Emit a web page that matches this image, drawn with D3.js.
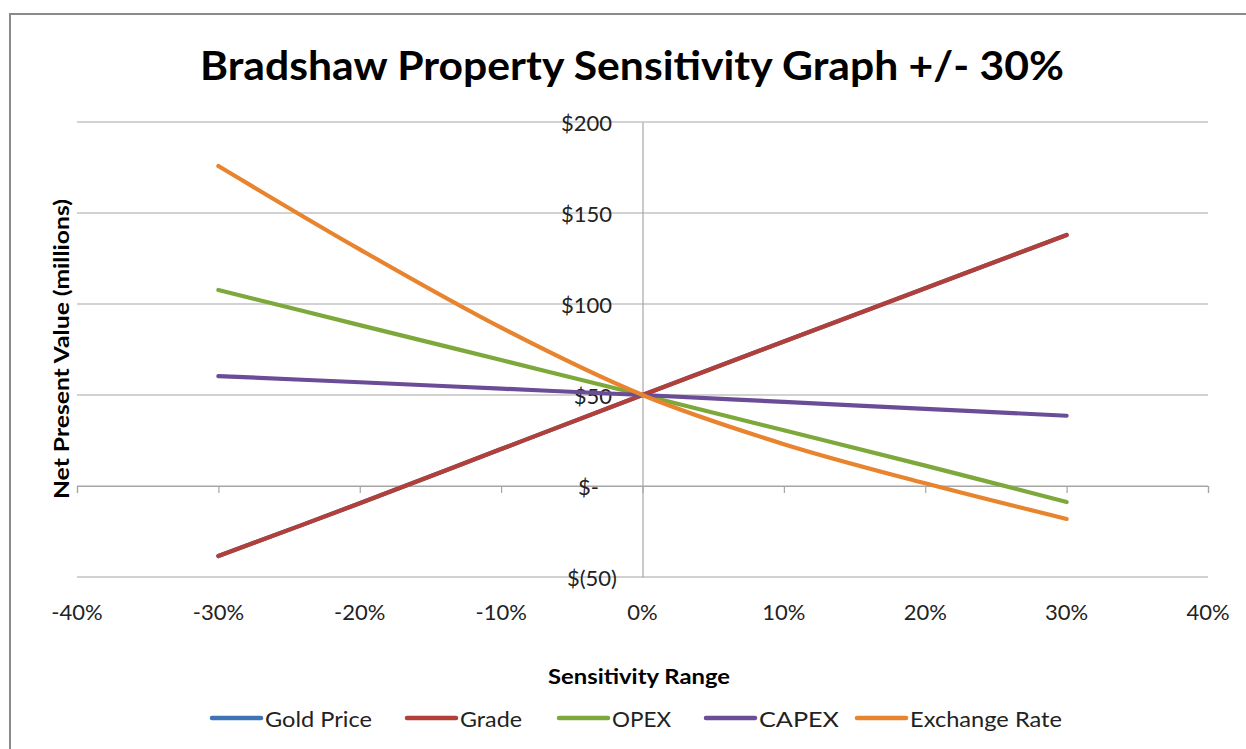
<!DOCTYPE html>
<html>
<head>
<meta charset="utf-8">
<script src="https://cdn.jsdelivr.net/npm/d3@7"></script>
<style>
  html, body { margin: 0; padding: 0; background: #fff; }
  svg { display: block; font-family: Lato, "Open Sans", sans-serif; }
</style>
</head>
<body>
<svg id="chart" width="1246" height="749"></svg>
<script>
// ---- data ----
const sensitivity = [-0.3, -0.2, -0.1, 0, 0.1, 0.2, 0.3];
const seriesNames = ["Gold Price", "Grade", "OPEX", "CAPEX", "Exchange Rate"];
const goldPrice    = [-38.5, -9.5, 20.3, 50, 79.4, 108.7, 137.9];
const grade        = [-38.5, -9.5, 20.3, 50, 79.4, 108.7, 137.9];
const opex         = [107.7, 88.4, 69.2, 50, 30.6, 11.2, -8.8];
const capex        = [60.4, 57.0, 53.5, 50, 46.2, 42.4, 38.6];
const exchangeRate = [175.8, 130.0, 87.0, 50, 23.0, 1.5, -18.1];
const xTicks = [-0.4, -0.3, -0.2, -0.1, 0, 0.1, 0.2, 0.3, 0.4];
const yTicks = [-50, 0, 50, 100, 150, 200];
const colors = ["#3E73B6", "#B23F38", "#7DA83C", "#6B4C96", "#E8832E"];

const seriesValues = [goldPrice, grade, opex, capex, exchangeRate];

const svg = d3.select("#chart");

// frame
svg.append("path")
  .attr("d", "M10,760 L10,14 L1260,14")
  .attr("fill", "none").attr("stroke", "#8a8a8a").attr("stroke-width", 2);

const x = d3.scaleLinear().domain([-0.4, 0.4]).range([77, 1208]);
const y = d3.scaleLinear().domain([-50, 200]).range([577, 122]);

// gridlines
svg.append("g").selectAll("line").data(yTicks).join("line")
  .attr("x1", x(-0.4)).attr("x2", x(0.4))
  .attr("y1", d => y(d)).attr("y2", d => y(d))
  .attr("stroke", "#a6a6a6").attr("stroke-width", 1.2);

// x axis at zero
const xAxis = d3.axisBottom(x).tickValues(xTicks).tickSize(7).tickFormat("");
const gx = svg.append("g").attr("transform", `translate(0,${y(0)})`).call(xAxis);
gx.select(".domain").attr("stroke", "#a6a6a6").attr("stroke-width", 1.2);
gx.selectAll(".tick line").attr("stroke", "#a6a6a6").attr("stroke-width", 1.2);

// x tick labels at the bottom
svg.append("g").selectAll("text").data(xTicks).join("text")
  .attr("x", d => x(d)).attr("y", 611)
  .attr("text-anchor", "middle").attr("dominant-baseline", "central")
  .attr("font-size", 22).attr("fill", "#222")
  .text(d => d3.format(".0%")(d).replace("−", "-"));

// y axis at x = 0
const yAxis = d3.axisLeft(y).tickValues(yTicks).tickSize(0).tickFormat("");
const gy = svg.append("g").attr("transform", `translate(${x(0)},0)`).call(yAxis);
gy.select(".domain").attr("stroke", "#a6a6a6").attr("stroke-width", 1.2);

const fmtMoney = v => v === 0 ? "$-" : (v < 0 ? `$(${Math.abs(v)})` : `$${v}`);
svg.append("g").selectAll("text").data(yTicks).join("text")
  .attr("x", d => d === 0 ? 599 : (d < 0 ? 617 : 612))
  .attr("y", d => y(d))
  .attr("text-anchor", "end").attr("dominant-baseline", "central")
  .attr("font-size", 22).attr("fill", "#222")
  .text(fmtMoney);

// lines
const line = d3.line()
  .x((d, i) => x(sensitivity[i]))
  .y(d => y(d))
  .curve(d3.curveCatmullRom.alpha(0));

svg.append("g").selectAll("path").data(seriesValues).join("path")
  .attr("d", d => line(d))
  .attr("fill", "none")
  .attr("stroke", (d, i) => colors[i])
  .attr("stroke-width", 4.2)
  .attr("stroke-linecap", "round")
  .attr("stroke-linejoin", "round");

// title
svg.append("text")
  .attr("x", 632).attr("y", 80)
  .attr("text-anchor", "middle")
  .attr("font-size", 40).attr("font-weight", "bold").attr("fill", "#000")
  .attr("textLength", 864).attr("lengthAdjust", "spacingAndGlyphs")
  .text("Bradshaw Property Sensitivity Graph +/- 30%");

// axis titles
svg.append("text")
  .attr("x", 639).attr("y", 676)
  .attr("text-anchor", "middle").attr("dominant-baseline", "central")
  .attr("font-size", 20).attr("font-weight", "bold").attr("fill", "#000")
  .attr("textLength", 182).attr("lengthAdjust", "spacingAndGlyphs")
  .text("Sensitivity Range");

svg.append("text")
  .attr("transform", "translate(61,349) rotate(-90)")
  .attr("text-anchor", "middle").attr("dominant-baseline", "central")
  .attr("font-size", 20).attr("font-weight", "bold").attr("fill", "#000")
  .attr("textLength", 300).attr("lengthAdjust", "spacingAndGlyphs")
  .text("Net Present Value (millions)");

// legend
const legendX = [210, 405, 557, 704, 855];
const legendTextW = [107, 62, 59, 80, 152];
const lg = svg.append("g").selectAll("g").data(seriesNames).join("g")
  .attr("transform", (d, i) => `translate(${legendX[i]},718)`);
lg.append("line")
  .attr("x1", 2).attr("x2", 51).attr("y1", 0).attr("y2", 0)
  .attr("stroke", (d, i) => colors[i]).attr("stroke-width", 4.5)
  .attr("stroke-linecap", "round");
lg.append("text")
  .attr("x", 55).attr("y", 0)
  .attr("dominant-baseline", "central")
  .attr("font-size", 21).attr("fill", "#222")
  .attr("textLength", (d, i) => legendTextW[i]).attr("lengthAdjust", "spacingAndGlyphs")
  .text(d => d);
</script>
</body>
</html>
